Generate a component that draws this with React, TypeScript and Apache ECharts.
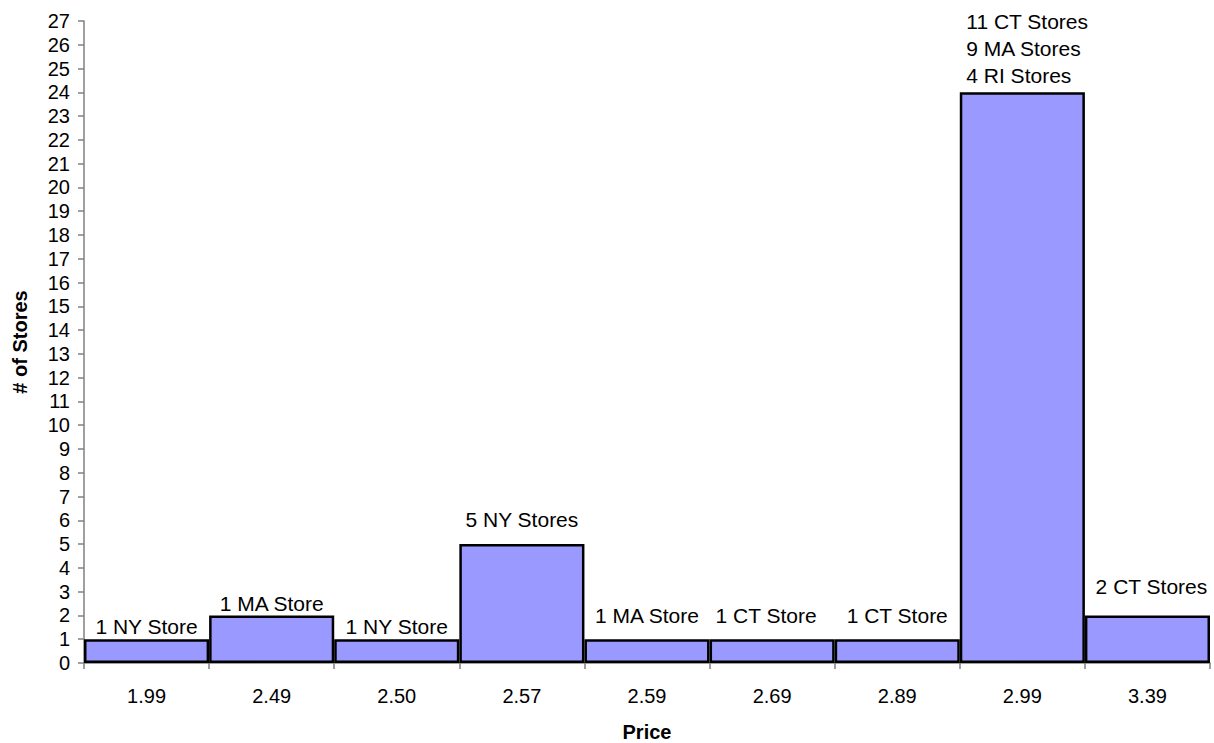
import React, { useEffect, useRef } from "react";
import * as echarts from "echarts";

const categories = ["1.99", "2.49", "2.50", "2.57", "2.59", "2.69", "2.89", "2.99", "3.39"];
const storeCounts = [1, 2, 1, 5, 1, 1, 1, 24, 2];
const barLabels = [
  "1 NY Store",
  "1 MA Store",
  "1 NY Store",
  "5 NY Stores",
  "1 MA Store",
  "1 CT Store",
  "1 CT Store",
  "11 CT Stores\n9 MA Stores\n4 RI Stores",
  "2 CT Stores",
];
// label gap (pixels) above each bar — styling only
const labelGaps = [2, 1, 2, 14, 13, 13, 13, 3, 18];
const labelShiftX = [0, 0, 0, 0, 0, -6, 0, 5, 4];

const FONT = "'Liberation Sans', Arial, sans-serif";

export default function App() {
  const ref = useRef<HTMLDivElement>(null);
  useEffect(() => {
    if (!ref.current) return;
    const chart = echarts.init(ref.current, undefined, { renderer: "svg" });
    chart.setOption({
      animation: false,
      backgroundColor: "#ffffff",
      textStyle: { fontFamily: FONT },
      grid: {
        left: 84,
        right: 4,
        top: 21,
        bottom: 80,
        containLabel: false,
        outerBoundsMode: "none",
      },
      xAxis: {
        type: "category",
        data: categories,
        name: "Price",
        nameLocation: "middle",
        nameGap: 59,
        nameTextStyle: { fontFamily: FONT, fontSize: 20, fontWeight: "bold", color: "#000" },
        axisLine: { show: true, lineStyle: { color: "#808080", width: 1.5 } },
        axisTick: { show: true, length: 6, lineStyle: { color: "#808080", width: 1.5 } },
        axisLabel: { fontFamily: FONT, fontSize: 20, color: "#000", margin: 23 },
        splitLine: { show: false },
      },
      yAxis: {
        type: "value",
        min: 0,
        max: 27,
        interval: 1,
        name: "# of Stores",
        nameLocation: "middle",
        nameRotate: 90,
        nameGap: 54,
        nameTextStyle: { fontFamily: FONT, fontSize: 20, fontWeight: "bold", color: "#000" },
        axisLine: { show: true, lineStyle: { color: "#808080", width: 1.5 } },
        axisTick: { show: true, length: 6, lineStyle: { color: "#808080", width: 1.5 } },
        axisLabel: { fontFamily: FONT, fontSize: 20, color: "#000", margin: 14 },
        splitLine: { show: false },
      },
      series: [
        {
          type: "bar",
          barWidth: "100%",
          barCategoryGap: "0%",
          itemStyle: { color: "#9999FF", borderColor: "#000000", borderWidth: 2.5 },
          data: storeCounts.map((v, i) => ({
            value: v,
            label: {
              show: true,
              position: "top",
              distance: labelGaps[i],
              offset: [labelShiftX[i], 0],
              fontFamily: FONT,
              fontSize: 21,
              lineHeight: barLabels[i].includes("\n") ? 27 : 21,
              color: "#000",
              formatter: () =>
                barLabels[i].includes("\n")
                  ? barLabels[i]
                      .split("\n")
                      .map((s) => `{l|${s}}`)
                      .join("\n")
                  : barLabels[i],
              rich: {
                l: { align: "left", fontFamily: FONT, fontSize: 21, lineHeight: 27, color: "#000" },
              },
            },
          })),
        },
      ],
    });
    return () => chart.dispose();
  }, []);
  return (
    <div
      ref={ref}
      style={{ position: "fixed", left: 0, top: 0, width: 1214, height: 743, background: "#fff" }}
    />
  );
}
